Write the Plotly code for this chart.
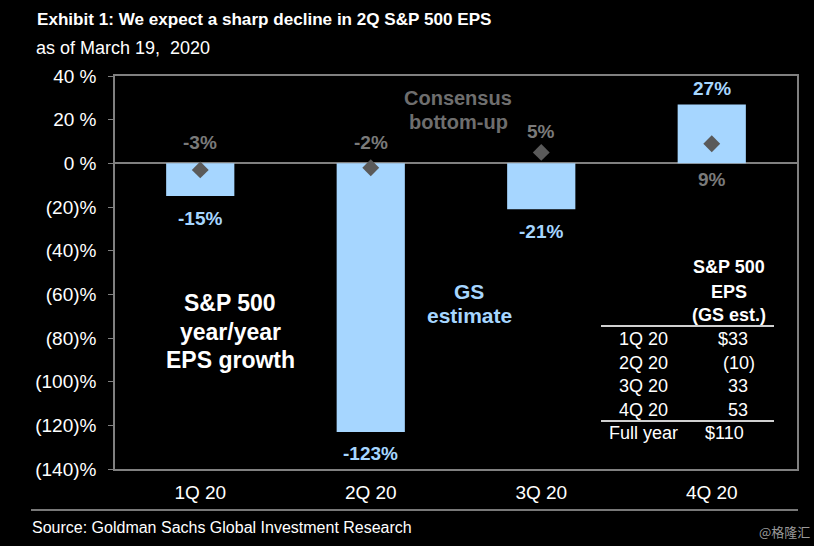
import plotly.graph_objects as go

categories = ["1Q 20", "2Q 20", "3Q 20", "4Q 20"]
gs_estimate = [-15, -123, -21, 27]
consensus = [-3, -2, 5, 9]
y_ticks = [40, 20, 0, -20, -40, -60, -80, -100, -120, -140]
y_tick_labels = ["40 %", "20 %", "0 %", "(20)%", "(40)%", "(60)%", "(80)%", "(100)%", "(120)%", "(140)%"]
table_quarters = ["1Q 20", "2Q 20", "3Q 20", "4Q 20"]
table_eps = ["$33", "(10)", "33", "53"]
full_year_eps = "$110"

FONT = "Liberation Sans, Arial, sans-serif"
BAR_COLOR = "#A6D6FF"
LABEL_BLUE = "#A6D6FF"
LINE_GRAY = "#808080"

L, R, T, B = 115, 797, 76, 469
PW, PH = R - L, B - T


def px(x):
    return (x - L) / PW


def py(y):
    return (B - y) / PH


fig = go.Figure()
fig.add_trace(go.Bar(x=categories, y=gs_estimate, marker=dict(color=BAR_COLOR, line=dict(width=0)),
                     width=0.4, hoverinfo="skip"))
fig.add_trace(go.Scatter(x=categories, y=consensus, mode="markers",
                         marker=dict(symbol="diamond", size=13, color="#5a5a5a"), hoverinfo="skip"))

annotations = []
for c, v in zip(categories, gs_estimate):
    annotations.append(dict(x=c, y=v, xref="x", yref="y", text=f"<b>{v}%</b>", showarrow=False,
                            xanchor="center", yanchor="middle",
                            yshift=(16 if v > 0 else -22), font=dict(family=FONT, size=19, color=LABEL_BLUE)))
for c, v, b in zip(categories, consensus, gs_estimate):
    if b > 0:
        ann = dict(x=c, y=0, yshift=-16)
    else:
        ann = dict(x=c, y=max(v, 0), yshift=21)
    ann.update(xref="x", yref="y", text=f"<b>{v}%</b>", showarrow=False, xanchor="center", yanchor="middle",
               font=dict(family=FONT, size=19, color="#7a7a7a"))
    annotations.append(ann)


def note(x, y, text, size, color, xanchor="center", family=FONT):
    return dict(xref="paper", yref="paper", x=px(x), y=py(y), text=text, showarrow=False,
                xanchor=xanchor, yanchor="middle", align="center",
                font=dict(family=family, size=size, color=color))


annotations += [
    note(458, 98, "<b>Consensus</b>", 20, "#6e6e6e"),
    note(458, 122, "<b>bottom-up</b>", 20, "#6e6e6e"),
    note(469, 291, "<b>GS</b>", 21, LABEL_BLUE),
    note(469, 315, "<b>estimate</b>", 21, LABEL_BLUE),
    note(230, 303, "<b>S&P 500</b>", 23, "white"),
    note(230, 332, "<b>year/year</b>", 23, "white"),
    note(230, 360, "<b>EPS growth</b>", 23, "white"),
    note(729, 267, "<b>S&P 500</b>", 18, "white"),
    note(729, 292, "<b>EPS</b>", 18, "white"),
    note(729, 315, "<b>(GS est.)</b>", 18, "white"),
]
row_y = [339, 363, 386, 410]
val_x = [733, 738.5, 738, 738]
for yy, q, e, vx in zip(row_y, table_quarters, table_eps, val_x):
    annotations.append(note(643.5, yy, q, 18, "white"))
    annotations.append(note(vx, yy, e, 18, "white"))
annotations.append(note(643.5, 433, "Full year", 18, "white"))
annotations.append(note(724, 433, full_year_eps, 18, "white"))

annotations += [
    note(35, 19, "<b>Exhibit 1: We expect a sharp decline in 2Q S&P 500 EPS</b>", 17.1, "white", xanchor="left"),
    note(34, 47.5, "as of March 19,  2020", 18, "white", xanchor="left"),
    note(30, 527, "Source: Goldman Sachs Global Investment Research", 16, "white", xanchor="left"),
    note(812, 531, "@格隆汇", 13, "#9a9a9a", xanchor="right", family="Noto Sans CJK SC"),
]

shapes = [
    dict(type="line", xref="paper", yref="paper", x0=px(601), x1=px(774), y0=py(326), y1=py(326),
         line=dict(color="#d0d0d0", width=2)),
    dict(type="line", xref="paper", yref="paper", x0=px(601), x1=px(774), y0=py(421), y1=py(421),
         line=dict(color="#d0d0d0", width=2)),
    dict(type="line", xref="paper", yref="paper", x0=px(31), x1=px(798), y0=py(510), y1=py(510),
         line=dict(color="#a0a0a0", width=1.5)),
]

fig.update_layout(
    width=814, height=546,
    margin=dict(l=L, r=814 - R, t=T, b=546 - B),
    paper_bgcolor="black", plot_bgcolor="black",
    showlegend=False,
    annotations=annotations, shapes=shapes,
    font=dict(family=FONT, color="white"),
    xaxis=dict(showline=True, linecolor=LINE_GRAY, linewidth=1.5, mirror=True, showgrid=False,
               ticks="", ticklabelstandoff=5, tickfont=dict(family=FONT, size=19, color="white")),
    yaxis=dict(range=[-140, 40], tickvals=y_ticks, ticktext=y_tick_labels, showline=True, linecolor=LINE_GRAY,
               linewidth=1.5, mirror=True, showgrid=False, zeroline=True, zerolinecolor=LINE_GRAY, zerolinewidth=1.5,
               ticks="outside", ticklen=5, tickcolor=LINE_GRAY, ticklabelstandoff=8,
               tickfont=dict(family=FONT, size=19, color="white")),
)

fig.write_html("out.html", config={"displayModeBar": False},
               post_script="document.body.style.margin='0';document.body.style.background='black';")
